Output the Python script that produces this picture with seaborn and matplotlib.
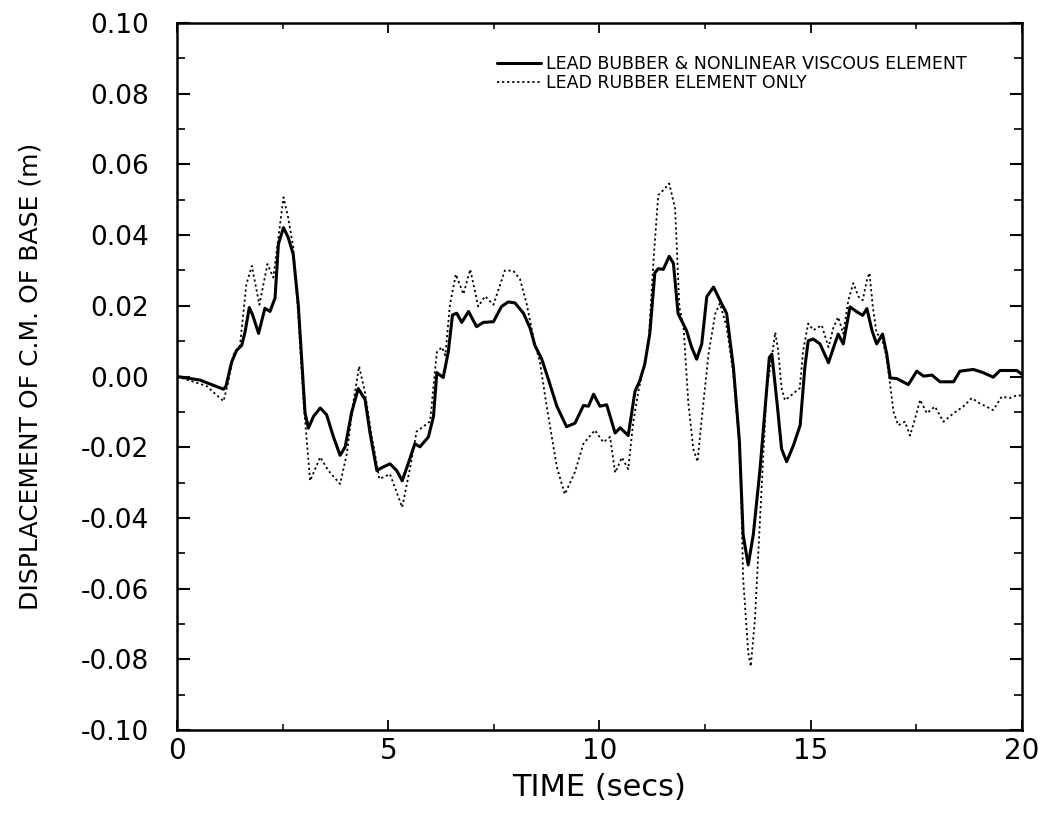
#!/usr/bin/env python3
"""Base displacement time history: lead rubber with/without nonlinear viscous element."""

import matplotlib
matplotlib.use("Agg")
import matplotlib.pyplot as plt
from matplotlib.ticker import MultipleLocator, FuncFormatter
import seaborn as sns

# Lead rubber & nonlinear viscous element (solid)
t_visc = [0.00, 0.54, 0.86, 1.10, 1.16, 1.29, 1.41, 1.53, 1.61, 1.71, 1.79, 1.93, 2.08,
          2.20, 2.32, 2.40, 2.52, 2.63, 2.75, 2.87, 2.95, 3.03, 3.11, 3.23, 3.39, 3.54,
          3.70, 3.86, 3.98, 4.13, 4.29, 4.45, 4.57, 4.73, 4.88, 5.04, 5.20, 5.33, 5.47,
          5.63, 5.75, 5.95, 6.07, 6.15, 6.30, 6.42, 6.52, 6.62, 6.74, 6.90, 7.09, 7.25,
          7.49, 7.68, 7.84, 8.00, 8.20, 8.36, 8.47, 8.63, 8.79, 8.99, 9.22, 9.42, 9.62,
          9.74, 9.86, 10.01, 10.17, 10.37, 10.49, 10.68, 10.84, 10.95, 11.07, 11.19,
          11.31, 11.39, 11.51, 11.65, 11.75, 11.86, 12.06, 12.18, 12.30, 12.42, 12.54,
          12.70, 12.85, 13.01, 13.17, 13.31, 13.40, 13.52, 13.64, 13.80, 13.92, 14.02,
          14.08, 14.20, 14.31, 14.43, 14.59, 14.75, 14.86, 14.94, 15.06, 15.22, 15.42,
          15.54, 15.65, 15.77, 15.93, 16.09, 16.23, 16.33, 16.45, 16.56, 16.70, 16.80,
          16.88, 17.04, 17.31, 17.51, 17.67, 17.87, 18.06, 18.38, 18.53, 18.85, 19.08,
          19.32, 19.48, 19.88, 20.00]
d_visc = [0.0000, -0.0010, -0.0025, -0.0036, -0.0027, 0.0040, 0.0074, 0.0088, 0.0126,
          0.0195, 0.0174, 0.0122, 0.0193, 0.0184, 0.0222, 0.0375, 0.0421, 0.0394, 0.0346,
          0.0203, 0.0050, -0.0103, -0.0146, -0.0113, -0.0089, -0.0108, -0.0170, -0.0223,
          -0.0199, -0.0103, -0.0034, -0.0065, -0.0161, -0.0266, -0.0256, -0.0247, -0.0266,
          -0.0295, -0.0247, -0.0190, -0.0199, -0.0171, -0.0113, 0.0011, -0.0003, 0.0069,
          0.0174, 0.0179, 0.0153, 0.0184, 0.0141, 0.0153, 0.0155, 0.0198, 0.0211, 0.0208,
          0.0179, 0.0136, 0.0088, 0.0050, -0.0008, -0.0084, -0.0142, -0.0132, -0.0082,
          -0.0084, -0.0050, -0.0084, -0.0080, -0.0160, -0.0145, -0.0167, -0.0042, -0.0013,
          0.0034, 0.0121, 0.0293, 0.0305, 0.0303, 0.0340, 0.0320, 0.0178, 0.0130, 0.0083,
          0.0049, 0.0092, 0.0226, 0.0253, 0.0216, 0.0178, 0.0025, -0.0180, -0.0448,
          -0.0533, -0.0448, -0.0262, -0.0090, 0.0054, 0.0063, -0.0071, -0.0205, -0.0241,
          -0.0195, -0.0138, 0.0025, 0.0101, 0.0106, 0.0092, 0.0039, 0.0082, 0.0120, 0.0092,
          0.0197, 0.0183, 0.0173, 0.0192, 0.0130, 0.0092, 0.0120, 0.0063, -0.0004, -0.0006,
          -0.0023, 0.0015, 0.0001, 0.0004, -0.0015, -0.0015, 0.0015, 0.0020, 0.0011,
          -0.0002, 0.0017, 0.0017, 0.0006]

# Lead rubber element only (dotted)
t_lr = [0.00, 0.70, 1.10, 1.21, 1.33, 1.49, 1.64, 1.77, 1.95, 2.14, 2.28, 2.40, 2.52,
        2.63, 2.75, 2.87, 2.99, 3.15, 3.39, 3.58, 3.86, 4.02, 4.17, 4.31, 4.45, 4.61,
        4.79, 5.04, 5.33, 5.52, 5.67, 5.99, 6.15, 6.27, 6.35, 6.46, 6.60, 6.78, 6.94,
        7.13, 7.29, 7.49, 7.76, 7.96, 8.12, 8.28, 8.44, 8.59, 8.75, 8.99, 9.18, 9.42,
        9.62, 9.89, 10.09, 10.25, 10.37, 10.53, 10.68, 10.80, 10.92, 11.04, 11.16,
        11.28, 11.39, 11.51, 11.65, 11.79, 11.89, 11.99, 12.10, 12.22, 12.32, 12.42,
        12.58, 12.74, 12.85, 13.01, 13.17, 13.33, 13.40, 13.52, 13.58, 13.68, 13.76,
        13.86, 13.96, 14.08, 14.16, 14.23, 14.31, 14.39, 14.55, 14.74, 14.82, 14.94,
        15.06, 15.26, 15.42, 15.54, 15.65, 15.77, 15.89, 16.01, 16.13, 16.23, 16.33,
        16.39, 16.47, 16.56, 16.68, 16.78, 16.88, 16.96, 17.07, 17.23, 17.35, 17.47,
        17.59, 17.75, 17.94, 18.14, 18.38, 18.61, 18.81, 19.00, 19.32, 19.52, 19.71,
        19.91, 20.00]
d_lr = [0.0000, -0.0027, -0.0070, -0.0017, 0.0060, 0.0088, 0.0260, 0.0313, 0.0203,
        0.0318, 0.0280, 0.0394, 0.0507, 0.0450, 0.0366, 0.0174, -0.0065, -0.0295,
        -0.0228, -0.0266, -0.0304, -0.0218, -0.0075, 0.0029, -0.0046, -0.0170, -0.0290,
        -0.0276, -0.0370, -0.0256, -0.0156, -0.0127, 0.0069, 0.0083, 0.0060, 0.0203,
        0.0289, 0.0233, 0.0303, 0.0198, 0.0227, 0.0203, 0.0300, 0.0299, 0.0275, 0.0203,
        0.0107, 0.0040, -0.0084, -0.0256, -0.0333, -0.0270, -0.0190, -0.0152, -0.0186,
        -0.0171, -0.0272, -0.0229, -0.0262, -0.0128, -0.0042, 0.0025, 0.0092, 0.0331,
        0.0513, 0.0527, 0.0546, 0.0475, 0.0197, 0.0140, -0.0071, -0.0205, -0.0241,
        -0.0119, 0.0063, 0.0178, 0.0207, 0.0140, 0.0006, -0.0224, -0.0571, -0.0780,
        -0.0820, -0.0686, -0.0495, -0.0262, -0.0033, 0.0054, 0.0125, 0.0073, -0.0033,
        -0.0067, -0.0052, -0.0033, 0.0073, 0.0150, 0.0131, 0.0145, 0.0083, 0.0140,
        0.0168, 0.0121, 0.0216, 0.0264, 0.0226, 0.0216, 0.0273, 0.0293, 0.0197, 0.0121,
        0.0111, 0.0063, -0.0023, -0.0100, -0.0138, -0.0128, -0.0167, -0.0119, -0.0066,
        -0.0104, -0.0085, -0.0128, -0.0104, -0.0085, -0.0061, -0.0076, -0.0095, -0.0057,
        -0.0061, -0.0052, -0.0056]

label_visc = "LEAD BUBBER & NONLINEAR VISCOUS ELEMENT"
label_lr = "LEAD RUBBER ELEMENT ONLY"

sns.set_theme(style="ticks")
plt.rcParams['font.family'] = ['DejaVu Sans']
plt.rcParams['axes.unicode_minus'] = False
plt.rcParams['text.color'] = 'black'

fig, ax = plt.subplots(figsize=(10.5, 8.16), dpi=100)
fig.subplots_adjust(left=0.1686, right=0.9733, bottom=0.1054, top=0.9718)

sns.lineplot(x=t_visc, y=d_visc, ax=ax, color='black', linewidth=2.2,
             label=label_visc, sort=False)
sns.lineplot(x=t_lr, y=d_lr, ax=ax, color='black', linewidth=1.3,
             linestyle=(0, (1.2, 1.6)), label=label_lr, sort=False)

ax.set_xlim(0, 20)
ax.set_ylim(-0.10, 0.10)
ax.xaxis.set_major_locator(MultipleLocator(5))
ax.xaxis.set_minor_locator(MultipleLocator(2.5))
ax.yaxis.set_major_locator(MultipleLocator(0.02))
ax.yaxis.set_minor_locator(MultipleLocator(0.01))
ax.yaxis.set_major_formatter(FuncFormatter(lambda v, _: f"{0.0 if abs(v) < 1e-9 else v:.2f}"))

ax.tick_params(which='both', direction='in', top=True, right=True, colors='black')
ax.tick_params(axis='x', which='major', length=7, width=1.3, labelsize=20, pad=5)
ax.tick_params(axis='x', which='minor', length=4, width=1.1)
ax.tick_params(axis='y', which='major', length=9, width=1.5, labelsize=19, pad=20)
ax.tick_params(axis='y', which='minor', length=6, width=1.2)

for spine in ax.spines.values():
    spine.set_linewidth(1.8)
    spine.set_color('black')

ax.set_xlabel('TIME (secs)', fontsize=22, color='black', labelpad=6)
ax.set_ylabel('DISPLACEMENT OF C.M. OF BASE (m)', fontsize=18, color='black', labelpad=28)

leg = ax.legend(loc='upper left', bbox_to_anchor=(0.379, 0.955), frameon=False, fontsize=12.5,
                handlelength=2.5, handletextpad=0.3, labelspacing=0.05,
                borderaxespad=0, borderpad=0)
for txt in leg.get_texts():
    txt.set_color('black')

fig.savefig('out.png', dpi=100)
